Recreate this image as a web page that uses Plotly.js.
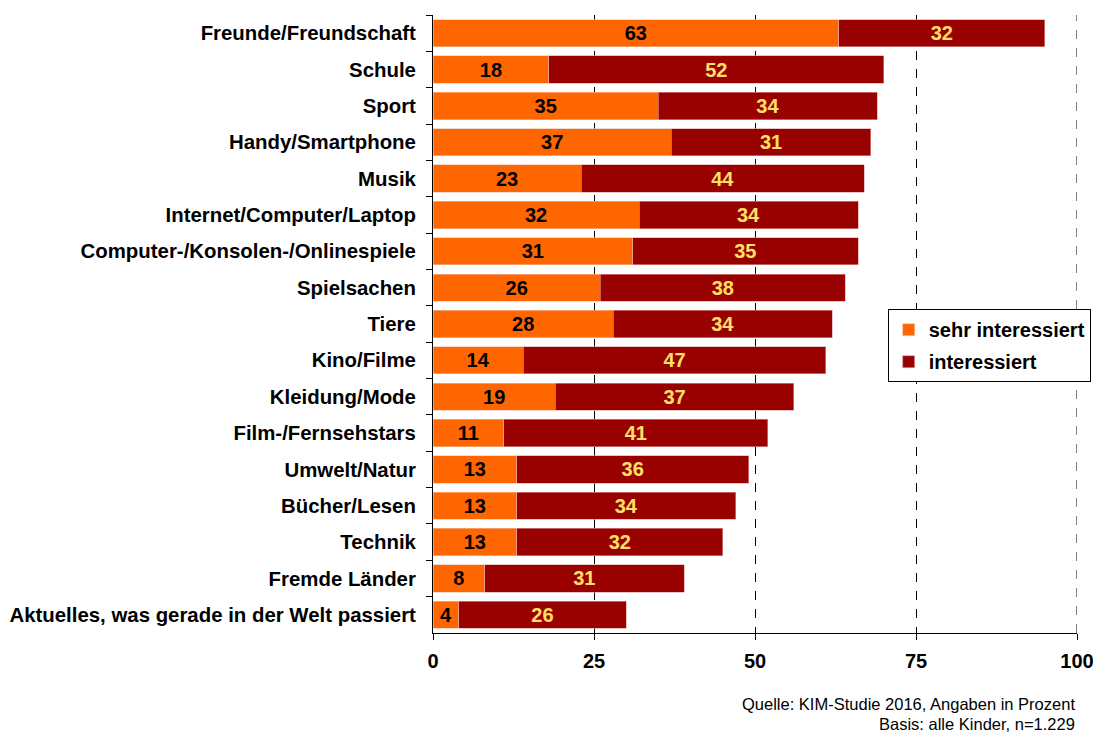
<!DOCTYPE html>
<html>
<head>
<meta charset="utf-8">
<script src="https://cdn.plot.ly/plotly-3.0.1.min.js"></script>
<style>html,body{margin:0;padding:0;background:#fff;}#chart{width:1096px;height:733px;}</style>
</head>
<body>
<div id="chart"></div>
<script>
const categories = [
  "Freunde/Freundschaft",
  "Schule",
  "Sport",
  "Handy/Smartphone",
  "Musik",
  "Internet/Computer/Laptop",
  "Computer-/Konsolen-/Onlinespiele",
  "Spielsachen",
  "Tiere",
  "Kino/Filme",
  "Kleidung/Mode",
  "Film-/Fernsehstars",
  "Umwelt/Natur",
  "Bücher/Lesen",
  "Technik",
  "Fremde Länder",
  "Aktuelles, was gerade in der Welt passiert"
];
const sehrInteressiert = [63, 18, 35, 37, 23, 32, 31, 26, 28, 14, 19, 11, 13, 13, 13, 8, 4];
const interessiert = [32, 52, 34, 31, 44, 34, 35, 38, 34, 47, 37, 41, 36, 34, 32, 31, 26];
const seriesNames = ["sehr interessiert", "interessiert"];
const xTicks = [0, 25, 50, 75, 100];

const FONT = "Liberation Sans, Arial, sans-serif";

const traces = [
  {
    type: "bar", orientation: "h", name: seriesNames[0], legendgroup: "a",
    y: categories, x: sehrInteressiert,
    text: sehrInteressiert.map(String),
    textposition: "inside", insidetextanchor: "middle", constraintext: "none", textangle: 0,
    textfont: {family: FONT, size: 20, color: "#000000", weight: "bold"},
    marker: {color: "#FF6600", line: {color: "#f4c0a8", width: 0.6}},
    hoverinfo: "skip"
  },
  {
    type: "bar", orientation: "h", name: seriesNames[1], legendgroup: "b",
    y: categories, x: interessiert,
    text: interessiert.map(String),
    textposition: "inside", insidetextanchor: "middle", constraintext: "none", textangle: 0,
    textfont: {family: FONT, size: 20, color: "#FFE066", weight: "bold"},
    marker: {color: "#990000", line: {color: "#e0a0a0", width: 0.6}},
    hoverinfo: "skip"
  }
];

const layout = {
  width: 1096, height: 733,
  margin: {l: 433, r: 19, t: 15, b: 100, autoexpand: false},
  barmode: "stack",
  bargap: 0.25,
  paper_bgcolor: "#ffffff",
  plot_bgcolor: "#ffffff",
  font: {family: FONT, size: 20, color: "#000000"},
  showlegend: true,
  legend: {
    x: 0.706, y: 0.524, xanchor: "left", yanchor: "top",
    bgcolor: "#ffffff", bordercolor: "#000000", borderwidth: 1,
    font: {family: FONT, size: 20, color: "#000000", weight: "bold"},
    traceorder: "grouped", tracegroupgap: 3, itemwidth: 20
  },
  xaxis: {
    range: [0, 100], tickvals: xTicks, ticktext: xTicks.map(String),
    showgrid: true, gridcolor: "#000000", gridwidth: 1, griddash: "dash",
    zeroline: false, showline: true, linecolor: "#000000", linewidth: 1,
    ticks: "outside", ticklen: 6, tickcolor: "#000000",
    tickfont: {family: FONT, size: 20, color: "#000000", weight: "bold"},
    ticklabelstandoff: 4,
    automargin: false,
    fixedrange: true
  },
  yaxis: {
    type: "category", autorange: "reversed",
    showline: true, linecolor: "#000000", linewidth: 1,
    ticks: "outside", ticklen: 6, tickcolor: "#000000", tickson: "boundaries",
    showgrid: false, zeroline: false,
    tickfont: {family: FONT, size: 20.4, color: "#000000", weight: "bold"},
    ticklabelstandoff: 12,
    automargin: false,
    fixedrange: true
  },
  shapes: [
    {type: "line", xref: "x", yref: "paper", x0: xTicks[xTicks.length - 1], x1: xTicks[xTicks.length - 1], y0: 0, y1: 1,
     line: {color: "#000000", width: 1, dash: "dash"}, layer: "below"}
  ],
  annotations: [
    {xref: "paper", yref: "paper", x: 1, y: -0.115, xanchor: "right", yanchor: "middle",
     text: "Quelle: KIM-Studie 2016, Angaben in Prozent", showarrow: false,
     font: {family: FONT, size: 16.5, color: "#000000"}},
    {xref: "paper", yref: "paper", x: 1, y: -0.147, xanchor: "right", yanchor: "middle",
     text: "Basis: alle Kinder, n=1.229", showarrow: false,
     font: {family: FONT, size: 16.5, color: "#000000"}}
  ]
};

Plotly.newPlot("chart", traces, layout, {displayModeBar: false, staticPlot: true});
</script>
</body>
</html>
